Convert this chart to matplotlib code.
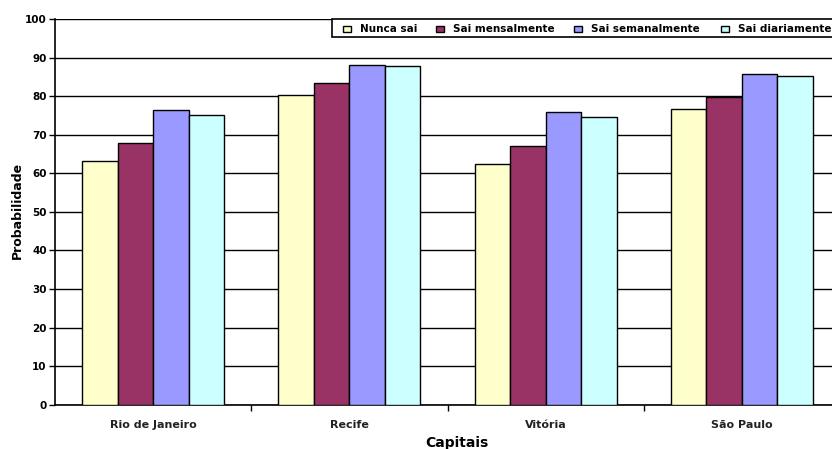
import matplotlib
matplotlib.use("Agg")
import matplotlib.pyplot as plt
import numpy as np
from matplotlib.patches import Rectangle

CAPITAIS = ["Rio de Janeiro", "Recife", "Vitória", "São Paulo"]
SERIES = ["Nunca sai", "Sai mensalmente", "Sai semanalmente", "Sai diariamente"]
NUNCA = [63.1, 80.3, 62.3, 76.6]
MENSAL = [67.9, 83.4, 67.1, 79.8]
SEMANAL = [76.3, 88.2, 75.9, 85.8]
DIARIO = [75.1, 87.8, 74.7, 85.1]
Y_TICKS = list(range(0, 101, 10))

COLORS = ["#ffffcc", "#993366", "#9999ff", "#ccffff"]
W, H = 832, 449

plt.rcParams.update({"font.family": "DejaVu Sans", "font.size": 7.5})

fig = plt.figure(figsize=(W / 100, H / 100), dpi=100)
# the plot area runs past the right edge of the canvas
ax = fig.add_axes([55 / W, 44.3 / H, 785 / W, 385.7 / H])

x = np.arange(len(CAPITAIS))
width = 0.1806
values = [NUNCA, MENSAL, SEMANAL, DIARIO]
for i, (vals, color) in enumerate(zip(values, COLORS)):
    ax.bar(x + (i - 1.5) * width, vals, width=width, color=color,
           edgecolor="black", linewidth=1.0, zorder=3)

ax.set_xlim(-0.5, len(CAPITAIS) - 0.5)
ax.set_ylim(0, 100)
ax.set_yticks(Y_TICKS)
ax.set_yticklabels([str(t) for t in Y_TICKS], fontweight="bold", fontsize=7.5)
ax.grid(axis="y", color="black", linewidth=1.0, zorder=0)
ax.set_axisbelow(True)

# category labels centred, tick marks on the boundaries
ax.set_xticks(x)
ax.set_xticklabels(CAPITAIS, fontsize=8, fontweight="bold", color="#222222")
ax.tick_params(axis="x", length=0, pad=11)
ax.set_xticks(np.arange(0.5, len(CAPITAIS) - 0.5, 1), minor=True)
ax.tick_params(axis="x", which="minor", length=4, width=1, color="black", direction="out")
ax.tick_params(axis="y", length=4, width=1, color="black", direction="out", pad=2)

for side in ("top", "right"):
    ax.spines[side].set_visible(False)
for side in ("left", "bottom"):
    ax.spines[side].set_color("black")
    ax.spines[side].set_linewidth(1.2)

fig.text(17 / W, 1 - 210 / H, "Probabilidade", rotation=90, ha="center", va="center",
         fontweight="bold", fontsize=9)
fig.text(457 / W, 1 - 443 / H, "Capitais", ha="center", va="center",
         fontweight="bold", fontsize=10)

# legend box, laid out in pixels and running off the right edge
fig.patches.append(Rectangle((331.5 / W, 1 - 37 / H), 520 / W, 18 / H,
                             transform=fig.transFigure, facecolor="white",
                             edgecolor="black", linewidth=1.2, zorder=5))
marker_x = [343, 436, 574, 721]
text_x = [360, 453, 591, 738]
for name, color, mx, tx in zip(SERIES, COLORS, marker_x, text_x):
    fig.patches.append(Rectangle((mx / W, 1 - 31.5 / H), 8 / W, 6 / H,
                                 transform=fig.transFigure, facecolor=color,
                                 edgecolor="black", linewidth=1.0, zorder=6))
    fig.text(tx / W, 1 - 28.5 / H, name, ha="left", va="center",
             fontweight="bold", fontsize=7.5, zorder=6)

fig.savefig("out.png", dpi=100)
